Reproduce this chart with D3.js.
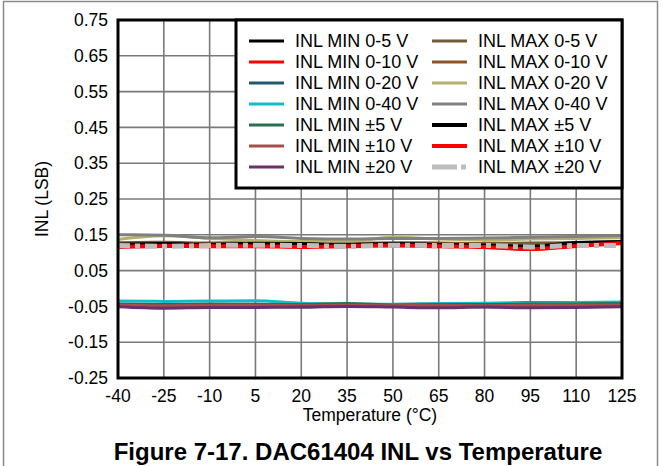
<!DOCTYPE html>
<html><head><meta charset="utf-8">
<script src="https://cdn.jsdelivr.net/npm/d3@7"></script>
<style>body{margin:0;background:#fff}svg{display:block;font-family:Arial,"Liberation Sans",sans-serif}</style>
</head><body><svg id="c" width="662" height="466"></svg>
<script>
const temps = [-40,-25,-10,5,20,35,50,65,80,95,110,125];
const xTicks = [-40,-25,-10,5,20,35,50,65,80,95,110,125];
const yTicks = [-0.25,-0.15,-0.05,0.05,0.15,0.25,0.35,0.45,0.55,0.65,0.75];

const minSeries = [
 {name:"INL MIN 0-5 V",   color:"#000000", w:3, v:[-0.044,-0.045,-0.044,-0.044,-0.045,-0.045,-0.046,-0.045,-0.044,-0.040,-0.039,-0.040]},
 {name:"INL MIN 0-10 V",  color:"#ff0000", w:3, v:[-0.045,-0.046,-0.045,-0.045,-0.046,-0.046,-0.045,-0.044,-0.042,-0.041,-0.043,-0.044]},
 {name:"INL MIN 0-20 V",  color:"#1f5a6e", w:3, v:[-0.046,-0.049,-0.047,-0.048,-0.052,-0.048,-0.050,-0.049,-0.051,-0.052,-0.050,-0.049]},
 {name:"INL MIN 0-40 V",  color:"#12bccc", w:3, v:[-0.035,-0.036,-0.035,-0.034,-0.041,-0.043,-0.044,-0.042,-0.041,-0.040,-0.039,-0.038]},
 {name:"INL MIN ±5 V",    color:"#2b6e4f", w:3, v:[-0.044,-0.045,-0.044,-0.045,-0.045,-0.042,-0.046,-0.045,-0.045,-0.043,-0.043,-0.042]},
 {name:"INL MIN ±10 V",   color:"#a34f4a", w:3, v:[-0.047,-0.048,-0.047,-0.047,-0.047,-0.047,-0.048,-0.047,-0.048,-0.047,-0.046,-0.046]},
 {name:"INL MIN ±20 V",   color:"#6b2f6b", w:3, v:[-0.051,-0.055,-0.053,-0.053,-0.052,-0.050,-0.052,-0.054,-0.052,-0.054,-0.053,-0.051]}
];
const maxSeries = [
 {name:"INL MAX 0-5 V",   color:"#735a3a", w:3, v:[0.128,0.129,0.127,0.128,0.127,0.126,0.128,0.127,0.126,0.127,0.128,0.130]},
 {name:"INL MAX 0-10 V",  color:"#8b5528", w:3, v:[0.125,0.126,0.125,0.124,0.124,0.125,0.126,0.125,0.124,0.123,0.125,0.127]},
 {name:"INL MAX 0-20 V",  color:"#b5b06a", w:3, v:[0.137,0.147,0.140,0.134,0.131,0.131,0.143,0.138,0.135,0.138,0.140,0.142]},
 {name:"INL MAX 0-40 V",  color:"#808080", w:3, v:[0.150,0.149,0.142,0.145,0.140,0.138,0.140,0.140,0.141,0.143,0.145,0.148]},
 {name:"INL MAX ±5 V",    color:"#000000", w:4, v:[0.122,0.124,0.122,0.125,0.124,0.122,0.124,0.122,0.120,0.117,0.127,0.130]},
 {name:"INL MAX ±10 V",   color:"#ff0000", w:4, v:[0.116,0.119,0.118,0.118,0.116,0.118,0.120,0.118,0.116,0.110,0.119,0.127]},
 {name:"INL MAX ±20 V",   color:"#bdbdbd", w:5, dash:"12,5,5,5", v:[0.120,0.118,0.120,0.121,0.120,0.118,0.121,0.120,0.120,0.116,0.120,0.120]}
];

const svg = d3.select("#c");
const L=118, R=622, T=20, B=378;
const x = d3.scaleLinear().domain([-40,125]).range([L,R]);
const y = d3.scaleLinear().domain([-0.25,0.75]).range([B,T]);

// outer frame
svg.append("rect").attr("x",3.5).attr("y",1.5).attr("width",654).attr("height",470)
  .attr("fill","none").attr("stroke","#8a8a8a").attr("stroke-width",1.5);

// grid
const g = svg.append("g");
g.selectAll(".vx").data(xTicks.slice(1,-1)).join("line")
  .attr("x1",d=>x(d)).attr("x2",d=>x(d)).attr("y1",T).attr("y2",B)
  .attr("stroke","#7a7a7a").attr("stroke-width",1.6);
g.selectAll(".hy").data(yTicks.slice(1,-1)).join("line")
  .attr("y1",d=>y(d)).attr("y2",d=>y(d)).attr("x1",L).attr("x2",R)
  .attr("stroke","#7a7a7a").attr("stroke-width",1.6);

// lines
const line = d3.line().x((d,i)=>x(temps[i])).y(d=>y(d)).curve(d3.curveMonotoneX);
const all = minSeries.concat(maxSeries);
svg.append("g").selectAll("path").data(all).join("path")
  .attr("d",d=>line(d.v)).attr("fill","none").attr("stroke",d=>d.color)
  .attr("stroke-width",d=>d.w).attr("stroke-dasharray",d=>d.dash||null)
  .attr("stroke-linejoin","round");

// plot frame
svg.append("rect").attr("x",L).attr("y",T).attr("width",R-L).attr("height",B-T)
  .attr("fill","none").attr("stroke","#000").attr("stroke-width",3);

// axes labels
const fs = 17.5;
svg.append("g").selectAll("text").data(yTicks).join("text")
  .attr("x",108).attr("y",d=>y(d)).attr("dy","0.35em").attr("text-anchor","end")
  .attr("font-size",fs).text(d=>d.toFixed(2));
svg.append("g").selectAll("text").data(xTicks).join("text")
  .attr("x",d=>x(d)).attr("y",396).attr("dy","0.35em").attr("text-anchor","middle")
  .attr("font-size",fs).text(d=>d);
svg.append("text").attr("x",(L+R)/2).attr("y",415).attr("dy","0.35em").attr("text-anchor","middle")
  .attr("font-size",17.5).text("Temperature (°C)");
svg.append("text").attr("transform","translate(42,199) rotate(-90)").attr("dy","0.35em")
  .attr("text-anchor","middle").attr("font-size",fs).text("INL (LSB)");
svg.append("text").attr("x",358).attr("y",452).attr("dy","0.35em").attr("text-anchor","middle")
  .attr("font-size",24).attr("font-weight","bold").text("Figure 7-17. DAC61404 INL vs Temperature");

// legend
const lg = svg.append("g");
lg.append("rect").attr("x",236).attr("y",20).attr("width",386).attr("height",168)
  .attr("fill","#fff").attr("stroke","#000").attr("stroke-width",3);
const cols = [{s:minSeries,lx:249,tx:295},{s:maxSeries,lx:432,tx:478}];
cols.forEach(c=>{
  c.s.forEach((d,i)=>{
    const yy = 41 + i*21;
    lg.append("line").attr("x1",c.lx).attr("x2",c.lx+35).attr("y1",yy).attr("y2",yy)
      .attr("stroke",d.color).attr("stroke-width",d.w).attr("stroke-dasharray",d.dash?"25,4,5,4":null);
    lg.append("text").attr("x",c.tx).attr("y",yy).attr("dy","0.35em").attr("font-size",18).text(d.name);
  });
});
</script></body></html>
